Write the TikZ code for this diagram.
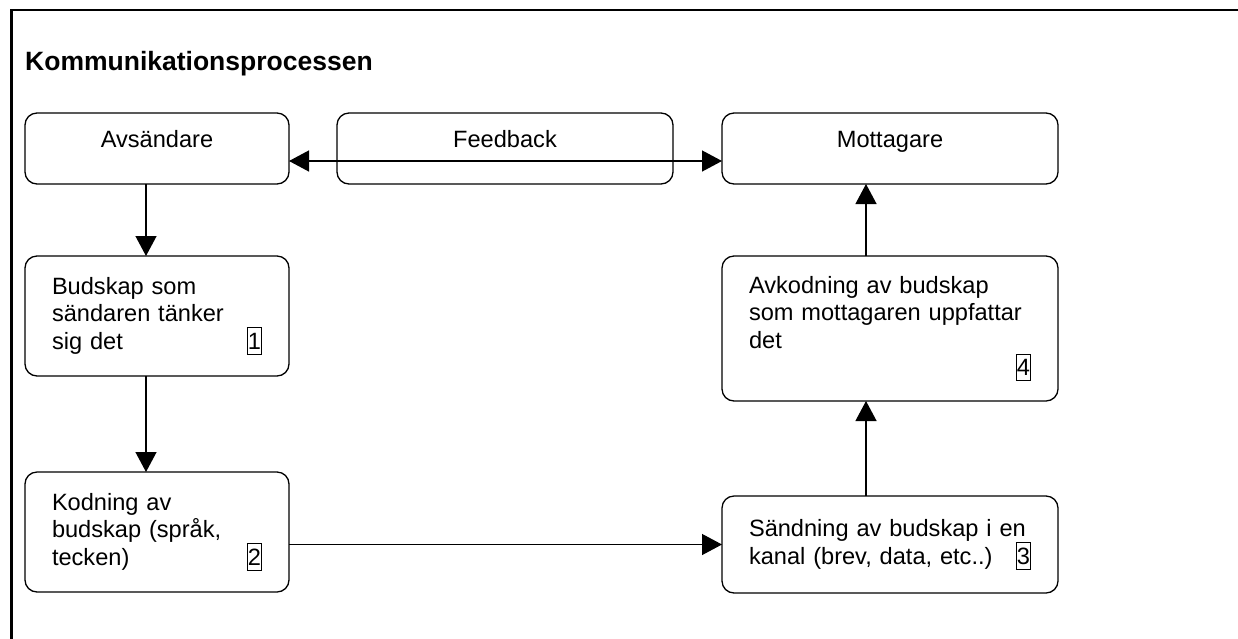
\documentclass[tikz,border=0pt]{standalone}
\usepackage{fontspec}
\setmainfont{Liberation Sans}
\usetikzlibrary{arrows.meta, positioning}
\newcommand{\numbox}[1]{{\setlength{\fboxsep}{0pt}\setlength{\fboxrule}{1pt}%
  \fbox{\rule[-4.5pt]{0pt}{25.5pt}#1}}}
\tikzset{
  blk/.style  = {draw, rounded corners=12pt, line width=1.3pt, align=left, outer sep=0pt,
                 font=\fontsize{23.6}{27.5}\selectfont, inner xsep=27pt, inner ysep=0pt},
  lft/.style  = {blk, minimum width=264pt, text width=210pt},
  rgt/.style  = {blk, minimum width=336pt, text width=282pt},
  top/.style  = {blk, align=center, minimum height=71pt,
                 text height=17pt, text depth=20pt},
  fl/.style   = {-{Triangle[length=20pt, width=21pt]}, line width=1.3pt},
  fl2/.style  = {{Triangle[length=20pt, width=21pt]}-{Triangle[length=20pt, width=21pt]},
                 line width=1.3pt},
}
\begin{document}
\begin{tikzpicture}[x=1pt, y=-1pt]
  \useasboundingbox (0,0) rectangle (1238,638);
  \clip (0,0) rectangle (1238,638);
  \draw[line width=2.5pt] (11.3,10) rectangle (1300,700);
  \node[anchor=base west, inner sep=0pt, font=\fontsize{26.5}{30}\selectfont\bfseries]
    (ttl) at (25,70) {Kommunikationsprocessen};
  % top row
  \node[top, minimum width=264pt] (avs) at (157,148.5) {Avsändare};
  \node[top, minimum width=336pt, right=48pt of avs] (fb)  {Feedback};
  \node[top, minimum width=336pt, right=49pt of fb]  (mot) {Mottagare};
  % left column
  \node[lft, minimum height=120pt, below=72pt of avs] (bud)
    {Budskap som\\ sändaren tänker\\ sig det\hfill\numbox{1}};
  \node[lft, minimum height=120pt, below=96pt of bud] (kod)
    {Kodning av\\ budskap (språk,\\ tecken)\hfill\numbox{2}\hspace*{4pt}};
  % right column
  \node[rgt, minimum height=145pt, below=72pt of mot] (avk)
    {Avkodning av budskap\\ som mottagaren uppfattar\\ det\\ \hfill\numbox{4}\hspace*{8pt}};
  \node[rgt, minimum height=97pt, below=95pt of avk] (sand)
    {Sändning av budskap i en\\ kanal (brev, data, etc..)\hfill\numbox{3}\hspace*{5pt}};
  \draw[fl] ([xshift=-11pt]avs.south) -- ([xshift=-11pt]bud.north);
  \draw[fl] ([xshift=-11pt]bud.south) -- ([xshift=-11pt]kod.north);
  \draw[fl] (sand.west -| kod.east) -- (sand.west);
  \draw[fl] ([xshift=-24pt]sand.north) -- ([xshift=-24pt]avk.south);
  \draw[fl] ([xshift=-24pt]avk.north) -- ([xshift=-24pt]mot.south);
  \draw[fl2] ([yshift=-12.5pt]avs.east) -- ([yshift=-12.5pt]mot.west);
\end{tikzpicture}
\end{document}
